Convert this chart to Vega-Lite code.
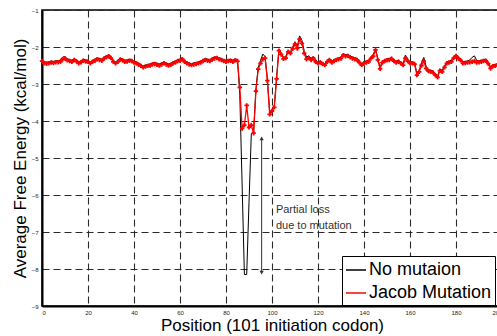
{
  "$schema": "https://vega.github.io/schema/vega-lite/v6.json",
  "width": 460,
  "height": 296,
  "autosize": "none",
  "padding": {"left": 42, "top": 10, "right": 0, "bottom": 30},
  "background": "white",
  "config": {
    "view": {"stroke": "black", "strokeWidth": 1.5},
    "font": "Liberation Sans",
    "axis": {
      "grid": true, "gridDash": [7, 4], "gridColor": "#2a2a2a", "gridOpacity": 1, "gridWidth": 1.1,
      "domainColor": "black", "domainWidth": 2, "ticks": false, "labelOverlap": false,
      "labelFontSize": 6, "labelColor": "#222", "labelFont": "Liberation Sans",
      "titleFont": "Liberation Sans", "titleFontSize": 17, "titleFontWeight": "normal", "titleColor": "black"
    }
  },
  "layer": [
    {
      "data": {"values": [
        {"x":0,"r":-2.38,"b":-2.34},{"x":1,"r":-2.44,"b":-2.40},{"x":2,"r":-2.45,"b":-2.41},{"x":3,"r":-2.44,"b":-2.40},{"x":4,"r":-2.42,"b":-2.38},
        {"x":5,"r":-2.43,"b":-2.39},{"x":6,"r":-2.41,"b":-2.37},{"x":7,"r":-2.41,"b":-2.37},{"x":8,"r":-2.40,"b":-2.36},{"x":9,"r":-2.33,"b":-2.27},
        {"x":10,"r":-2.31,"b":-2.26},{"x":11,"r":-2.36,"b":-2.32},{"x":12,"r":-2.38,"b":-2.34},{"x":13,"r":-2.40,"b":-2.36},{"x":14,"r":-2.35,"b":-2.31},
        {"x":15,"r":-2.39,"b":-2.35},{"x":16,"r":-2.44,"b":-2.40},{"x":17,"r":-2.41,"b":-2.37},{"x":18,"r":-2.37,"b":-2.33},{"x":19,"r":-2.39,"b":-2.35},
        {"x":20,"r":-2.40,"b":-2.36},{"x":21,"r":-2.44,"b":-2.40},{"x":22,"r":-2.40,"b":-2.36},{"x":23,"r":-2.37,"b":-2.33},{"x":24,"r":-2.33,"b":-2.29},
        {"x":25,"r":-2.35,"b":-2.31},{"x":26,"r":-2.37,"b":-2.33},{"x":27,"r":-2.31,"b":-2.27},{"x":28,"r":-2.28,"b":-2.24},{"x":29,"r":-2.25,"b":-2.21},
        {"x":30,"r":-2.30,"b":-2.26},{"x":31,"r":-2.40,"b":-2.36},{"x":32,"r":-2.44,"b":-2.40},{"x":33,"r":-2.40,"b":-2.36},{"x":34,"r":-2.34,"b":-2.30},
        {"x":35,"r":-2.36,"b":-2.32},{"x":36,"r":-2.40,"b":-2.36},{"x":37,"r":-2.39,"b":-2.35},{"x":38,"r":-2.37,"b":-2.33},{"x":39,"r":-2.38,"b":-2.34},
        {"x":40,"r":-2.42,"b":-2.38},{"x":41,"r":-2.44,"b":-2.40},{"x":42,"r":-2.48,"b":-2.44},{"x":43,"r":-2.51,"b":-2.47},{"x":44,"r":-2.55,"b":-2.51},
        {"x":45,"r":-2.53,"b":-2.49},{"x":46,"r":-2.51,"b":-2.47},{"x":47,"r":-2.50,"b":-2.46},{"x":48,"r":-2.47,"b":-2.43},{"x":49,"r":-2.46,"b":-2.42},
        {"x":50,"r":-2.48,"b":-2.44},{"x":51,"r":-2.50,"b":-2.46},{"x":52,"r":-2.47,"b":-2.43},{"x":53,"r":-2.44,"b":-2.40},{"x":54,"r":-2.47,"b":-2.43},
        {"x":55,"r":-2.50,"b":-2.46},{"x":56,"r":-2.48,"b":-2.44},{"x":57,"r":-2.44,"b":-2.40},{"x":58,"r":-2.42,"b":-2.38},{"x":59,"r":-2.38,"b":-2.34},
        {"x":60,"r":-2.37,"b":-2.33},{"x":61,"r":-2.33,"b":-2.29},{"x":62,"r":-2.40,"b":-2.36},{"x":63,"r":-2.44,"b":-2.40},{"x":64,"r":-2.47,"b":-2.43},
        {"x":65,"r":-2.49,"b":-2.45},{"x":66,"r":-2.47,"b":-2.43},{"x":67,"r":-2.46,"b":-2.42},{"x":68,"r":-2.44,"b":-2.40},{"x":69,"r":-2.42,"b":-2.38},
        {"x":70,"r":-2.38,"b":-2.34},{"x":71,"r":-2.35,"b":-2.31},{"x":72,"r":-2.37,"b":-2.33},{"x":73,"r":-2.38,"b":-2.34},{"x":74,"r":-2.34,"b":-2.30},
        {"x":75,"r":-2.31,"b":-2.27},{"x":76,"r":-2.30,"b":-2.26},{"x":77,"r":-2.33,"b":-2.29},{"x":78,"r":-2.35,"b":-2.31},{"x":79,"r":-2.38,"b":-2.34},
        {"x":80,"r":-2.40,"b":-2.36},{"x":81,"r":-2.38,"b":-2.34},{"x":82,"r":-2.37,"b":-2.33},{"x":83,"r":-2.40,"b":-2.36},{"x":84,"r":-2.36,"b":-2.32},
        {"x":85,"r":-2.38,"b":-2.34},{"x":86,"r":-3.09,"b":-3.30},{"x":87,"r":-4.20,"b":-5.70},{"x":88,"r":-4.11,"b":-8.15},{"x":89,"r":-3.58,"b":-8.15},
        {"x":90,"r":-4.17,"b":-6.20},{"x":91,"r":-4.11,"b":-4.35},{"x":92,"r":-4.33,"b":-4.30},{"x":93,"r":-3.19,"b":-3.15},{"x":94,"r":-2.60,"b":-2.55},
        {"x":95,"r":-2.44,"b":-2.38},{"x":96,"r":-2.33,"b":-2.19},{"x":97,"r":-2.30,"b":-2.26},{"x":98,"r":-2.91,"b":-2.87},{"x":99,"r":-3.82,"b":-3.78},
        {"x":100,"r":-3.73,"b":-3.69},{"x":101,"r":-3.63,"b":-3.59},{"x":102,"r":-2.86,"b":-2.82},{"x":103,"r":-2.10,"b":-2.06},{"x":104,"r":-2.20,"b":-2.16},
        {"x":105,"r":-2.32,"b":-2.28},{"x":106,"r":-2.30,"b":-2.26},{"x":107,"r":-2.13,"b":-2.09},{"x":108,"r":-2.17,"b":-2.13},{"x":109,"r":-2.05,"b":-2.00},
        {"x":110,"r":-1.92,"b":-1.86},{"x":111,"r":-2.04,"b":-1.98},{"x":112,"r":-1.79,"b":-1.70},{"x":113,"r":-1.90,"b":-1.82},{"x":114,"r":-2.17,"b":-2.10},
        {"x":115,"r":-2.33,"b":-2.27},{"x":116,"r":-2.30,"b":-2.24},{"x":117,"r":-2.35,"b":-2.30},{"x":118,"r":-2.31,"b":-2.26},{"x":119,"r":-2.40,"b":-2.36},
        {"x":120,"r":-2.44,"b":-2.40},{"x":121,"r":-2.42,"b":-2.38},{"x":122,"r":-2.46,"b":-2.42},{"x":123,"r":-2.49,"b":-2.45},{"x":124,"r":-2.40,"b":-2.36},
        {"x":125,"r":-2.35,"b":-2.31},{"x":126,"r":-2.42,"b":-2.38},{"x":127,"r":-2.38,"b":-2.34},{"x":128,"r":-2.35,"b":-2.31},{"x":129,"r":-2.33,"b":-2.29},
        {"x":130,"r":-2.31,"b":-2.27},{"x":131,"r":-2.22,"b":-2.18},{"x":132,"r":-2.25,"b":-2.21},{"x":133,"r":-2.24,"b":-2.20},{"x":134,"r":-2.28,"b":-2.24},
        {"x":135,"r":-2.31,"b":-2.27},{"x":136,"r":-2.33,"b":-2.29},{"x":137,"r":-2.35,"b":-2.31},{"x":138,"r":-2.42,"b":-2.38},{"x":139,"r":-2.49,"b":-2.45},
        {"x":140,"r":-2.44,"b":-2.40},{"x":141,"r":-2.42,"b":-2.38},{"x":142,"r":-2.40,"b":-2.36},{"x":143,"r":-2.31,"b":-2.27},{"x":144,"r":-2.25,"b":-2.21},
        {"x":145,"r":-2.08,"b":-2.04},{"x":146,"r":-2.35,"b":-2.31},{"x":147,"r":-2.59,"b":-2.55},{"x":148,"r":-2.42,"b":-2.38},{"x":149,"r":-2.38,"b":-2.34},
        {"x":150,"r":-2.36,"b":-2.32},{"x":151,"r":-2.35,"b":-2.31},{"x":152,"r":-2.32,"b":-2.28},{"x":153,"r":-2.38,"b":-2.34},{"x":154,"r":-2.42,"b":-2.38},
        {"x":155,"r":-2.40,"b":-2.36},{"x":156,"r":-2.44,"b":-2.40},{"x":157,"r":-2.49,"b":-2.45},{"x":158,"r":-2.30,"b":-2.22},{"x":159,"r":-2.38,"b":-2.33},
        {"x":160,"r":-2.44,"b":-2.40},{"x":161,"r":-2.44,"b":-2.40},{"x":162,"r":-2.46,"b":-2.42},{"x":163,"r":-2.76,"b":-2.72},{"x":164,"r":-2.67,"b":-2.63},
        {"x":165,"r":-2.50,"b":-2.42},{"x":166,"r":-2.38,"b":-2.28},{"x":167,"r":-2.58,"b":-2.52},{"x":168,"r":-2.65,"b":-2.61},{"x":169,"r":-2.67,"b":-2.63},
        {"x":170,"r":-2.69,"b":-2.65},{"x":171,"r":-2.76,"b":-2.72},{"x":172,"r":-2.82,"b":-2.78},{"x":173,"r":-2.64,"b":-2.60},{"x":174,"r":-2.67,"b":-2.63},
        {"x":175,"r":-2.55,"b":-2.51},{"x":176,"r":-2.44,"b":-2.40},{"x":177,"r":-2.42,"b":-2.38},{"x":178,"r":-2.40,"b":-2.36},{"x":179,"r":-2.30,"b":-2.26},
        {"x":180,"r":-2.24,"b":-2.20},{"x":181,"r":-2.31,"b":-2.27},{"x":182,"r":-2.36,"b":-2.32},{"x":183,"r":-2.44,"b":-2.40},{"x":184,"r":-2.43,"b":-2.39},
        {"x":185,"r":-2.42,"b":-2.38},{"x":186,"r":-2.41,"b":-2.35},{"x":187,"r":-2.40,"b":-2.28},{"x":188,"r":-2.38,"b":-2.24},{"x":189,"r":-2.42,"b":-2.36},
        {"x":190,"r":-2.41,"b":-2.37},{"x":191,"r":-2.40,"b":-2.36},{"x":192,"r":-2.38,"b":-2.34},{"x":193,"r":-2.37,"b":-2.33},{"x":194,"r":-2.45,"b":-2.41},
        {"x":195,"r":-2.58,"b":-2.54},{"x":196,"r":-2.52,"b":-2.48},{"x":197,"r":-2.51,"b":-2.47},{"x":198,"r":-2.49,"b":-2.45},{"x":199,"r":-2.50,"b":-2.46},
        {"x":200,"r":-2.50,"b":-2.46}
      ]},
      "transform": [{"fold": ["b", "r"], "as": ["s", "v"]}],
      "layer": [
        {
          "transform": [{"filter": "datum.s == 'b'"}],
          "mark": {"type": "line", "strokeWidth": 1},
          "encoding": {
            "x": {"field": "x", "type": "quantitative", "scale": {"domain": [0, 200], "nice": false},
                  "axis": {"values": [0,20,40,60,80,100,120,140,160,180,200], "tickCount": 20, "format": "d", "labelPadding": 3, "title": "Position (101 initiation codon)", "titlePadding": 2}},
            "y": {"field": "v", "type": "quantitative", "scale": {"domain": [-9, -1], "nice": false},
                  "axis": {"values": [-9,-8,-7,-6,-5,-4,-3,-2,-1], "tickCount": 20, "format": "d", "labelPadding": 4, "title": "Average Free Energy (kcal/mol)", "titlePadding": 2}},
            "color": {"field": "s", "type": "nominal",
                      "scale": {"domain": ["b", "r"], "range": ["black", "red"]},
                      "legend": {"orient": "none", "legendX": 300, "legendY": 246, "title": null,
                                 "symbolType": "stroke", "symbolSize": 400, "symbolStrokeWidth": 1.5,
                                 "labelFontSize": 18, "labelFont": "Liberation Sans", "labelColor": "black",
                                 "labelLimit": 300, "labelOffset": 2, "padding": 3, "rowPadding": 3,
                                 "strokeColor": "black", "fillColor": "white",
                                 "labelExpr": "datum.value == 'b' ? 'No mutaion' : 'Jacob Mutation'"}}
          }
        },
        {
          "transform": [{"filter": "datum.s == 'r'"}],
          "mark": {"type": "line", "strokeWidth": 1.3},
          "encoding": {
            "x": {"field": "x", "type": "quantitative"},
            "y": {"field": "v", "type": "quantitative"},
            "color": {"field": "s", "type": "nominal"}
          }
        },
        {
          "transform": [{"filter": "datum.s == 'r'"}],
          "mark": {"type": "point", "shape": "cross", "size": 20, "filled": true, "color": "red", "opacity": 1},
          "encoding": {
            "x": {"field": "x", "type": "quantitative"},
            "y": {"field": "v", "type": "quantitative"}
          }
        }
      ]
    },
    {
      "data": {"values": [{"x": 95.5, "y1": -4.45, "y2": -8.12}]},
      "mark": {"type": "rule", "color": "#333", "strokeWidth": 1},
      "encoding": {
        "x": {"field": "x", "type": "quantitative"},
        "y": {"field": "y1", "type": "quantitative"},
        "y2": {"field": "y2"}
      }
    },
    {
      "data": {"values": [{"x": 95.5, "y": -4.47, "d": "up"}, {"x": 95.5, "y": -8.1, "d": "down"}]},
      "mark": {"type": "point", "filled": true, "color": "#333", "size": 18, "opacity": 1},
      "encoding": {
        "x": {"field": "x", "type": "quantitative"},
        "y": {"field": "y", "type": "quantitative"},
        "shape": {"field": "d", "type": "nominal", "scale": {"domain": ["up", "down"], "range": ["triangle-up", "triangle-down"]}, "legend": null}
      }
    },
    {
      "data": {"values": [{"x": 101.7, "y": -6.49, "t": "Partial loss"}, {"x": 101.7, "y": -6.92, "t": "due to mutation"}]},
      "mark": {"type": "text", "align": "left", "baseline": "alphabetic", "fontSize": 11, "color": "#333", "font": "Liberation Sans"},
      "encoding": {
        "x": {"field": "x", "type": "quantitative"},
        "y": {"field": "y", "type": "quantitative"},
        "text": {"field": "t"}
      }
    }
  ]
}
